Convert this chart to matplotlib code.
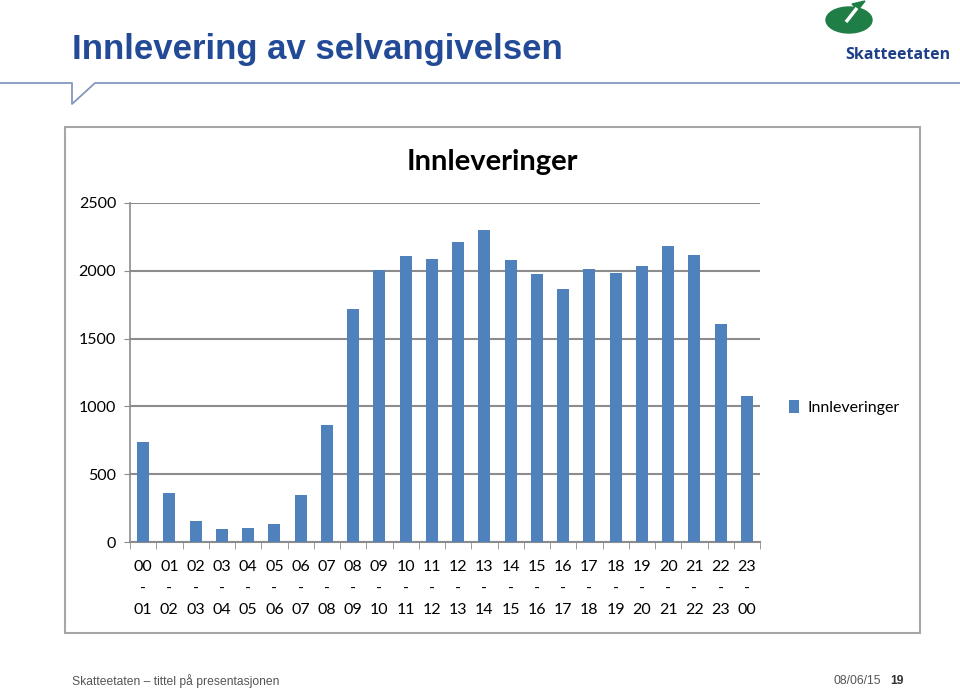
import matplotlib.pyplot as plt
from matplotlib.patches import Rectangle, Ellipse, Polygon

hours_from = ["00", "01", "02", "03", "04", "05", "06", "07", "08", "09", "10", "11",
              "12", "13", "14", "15", "16", "17", "18", "19", "20", "21", "22", "23"]
hours_to = ["01", "02", "03", "04", "05", "06", "07", "08", "09", "10", "11", "12",
            "13", "14", "15", "16", "17", "18", "19", "20", "21", "22", "23", "00"]
innleveringer = [740, 365, 155, 95, 105, 130, 345, 865, 1715, 2005, 2110, 2090,
                 2210, 2300, 2080, 1975, 1865, 2015, 1985, 2035, 2180, 2120, 1605, 1080]

narrow = ["Liberation Sans Narrow", "Liberation Sans", "DejaVu Sans"]
chartfont = ["Lato", "DejaVu Sans"]

fig = plt.figure(figsize=[9.6, 6.89], dpi=100)

# slide background, drawn in pixel coordinates
bg = fig.add_axes([0, 0, 1, 1])
bg.set_xlim(0, 960)
bg.set_ylim(689, 0)
bg.axis("off")

bg.text(72, 50, "Innlevering av selvangivelsen", family=narrow, fontsize=25,
        fontweight="bold", color="#224A96", va="center", ha="left")
bg.plot([0, 72, 72, 95, 960], [83, 83, 104, 83, 83], color="#8497BF", lw=1.3)

# logo
bg.add_patch(Ellipse((849, 20), 46, 26, color="#1F7D46"))
bg.plot([846, 857], [22, 8], color="white", lw=2.5, solid_capstyle="butt")
bg.add_patch(Polygon([[852, 4], [865, 1], [858, 10]], closed=True, color="#1F7D46"))
bg.text(898, 55, "Skatteetaten", family=["Open Sans", "DejaVu Sans"], fontsize=11.5,
        fontweight="bold", color="#1E3F8A", ha="center", va="center")

# footer
bg.text(72, 681, "Skatteetaten \u2013 tittel på presentasjonen", family=narrow,
        fontsize=8.7, color="#555555", va="center", ha="left")
bg.text(833, 681, "08/06/15", family=narrow, fontsize=8.7, color="#555555",
        va="center", ha="left")
bg.text(890, 681, "19", family=narrow, fontsize=8.7, color="#333333",
        fontweight="bold", va="center", ha="left")

# chart frame
bg.add_patch(Rectangle((65, 127), 855, 506, facecolor="white", edgecolor="#A6A6A6", lw=1.5))
bg.text(492, 162, "Innleveringer", family=chartfont, fontsize=21, fontweight="bold",
        color="black", ha="center", va="center")

# bar chart
ax = fig.add_axes([130 / 960, 1 - 542 / 689, 630 / 960, 339 / 689])
ax.set_facecolor("none")
x = list(range(len(innleveringer)))
ax.bar(x, innleveringer, width=0.45, color="#4F81BD", zorder=3, label="Innleveringer")

ax.set_xlim(-0.5, 23.5)
ax.set_ylim(0, 2500)
ax.set_yticks([0, 500, 1000, 1500, 2000, 2500])
ax.grid(axis="y", color="#8C8C8C", lw=1.5, zorder=0)

labels = [f + "\n-\n" + t for f, t in zip(hours_from, hours_to)]
ax.set_xticks(x)
ax.set_xticklabels(labels, family=chartfont, fontsize=11.5, linespacing=1.68)
ax.set_xticks([i - 0.5 for i in range(25)], minor=True)
ax.tick_params(axis="x", which="major", length=0, pad=13)
ax.tick_params(axis="x", which="minor", length=5, color="#8C8C8C", direction="out")
ax.tick_params(axis="y", length=4, color="#8C8C8C", pad=6)
for lab in ax.get_yticklabels():
    lab.set_family(chartfont)
    lab.set_fontsize(11.5)

for side in ["top", "right"]:
    ax.spines[side].set_visible(False)
ax.spines["left"].set_color("#8C8C8C")
ax.spines["bottom"].set_color("#8C8C8C")
ax.spines["left"].set_linewidth(1.2)
ax.spines["bottom"].set_linewidth(1.5)

leg = ax.legend(loc="center left", bbox_to_anchor=(1.024, 0.398), frameon=False,
                prop={"family": chartfont, "size": 11.5}, handlelength=0.6,
                handleheight=0.9, handletextpad=0.5)

fig.savefig("out.png", dpi=100)
